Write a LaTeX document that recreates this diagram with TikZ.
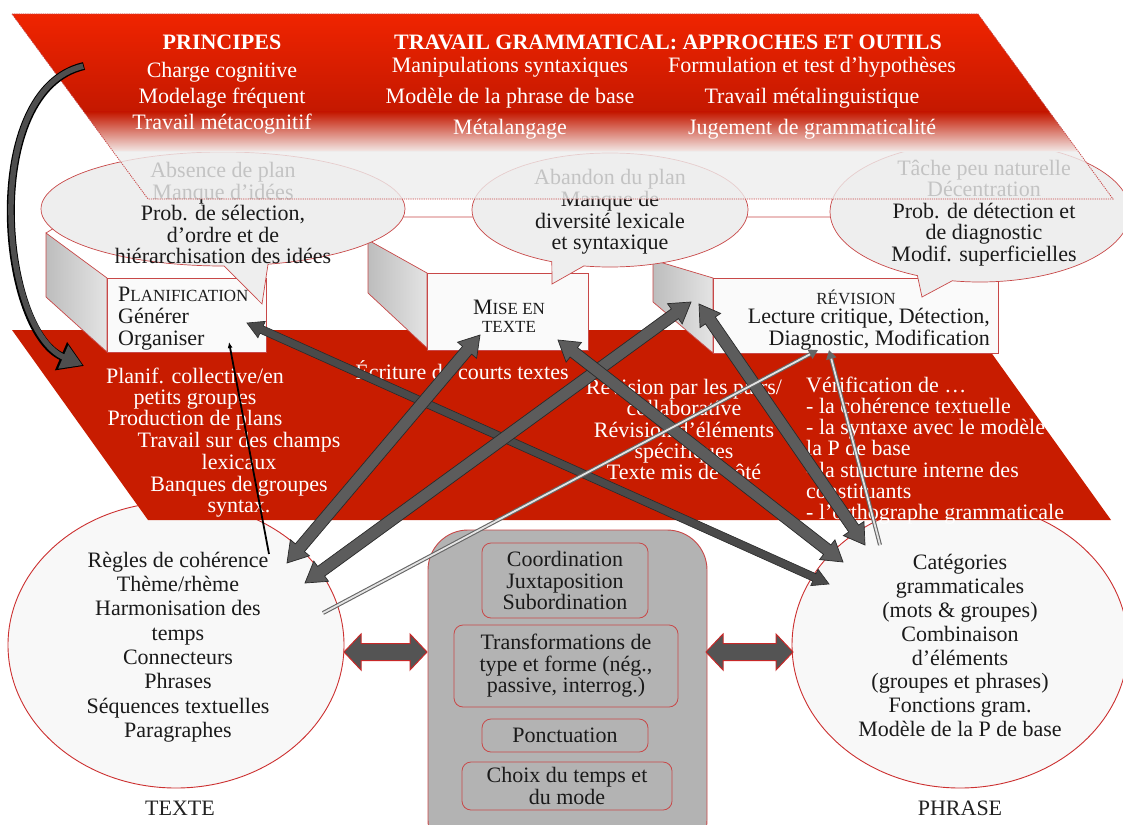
\documentclass[tikz,border=0pt]{standalone}
\usepackage{fontspec}
\setmainfont{Liberation Serif}
\usetikzlibrary{calc,shapes.callouts,shapes.geometric,arrows.meta}
\definecolor{bandred}{HTML}{C81C00}
\definecolor{bandtop}{HTML}{F02400}
\definecolor{banddark}{HTML}{C41800}
\definecolor{bandfade}{HTML}{F2E6E4}
\definecolor{edgered}{HTML}{C84848}
\definecolor{circedge}{HTML}{CC3030}
\definecolor{ellfill}{HTML}{EEEEEE}
\definecolor{circfill}{HTML}{F8F8F8}
\definecolor{frontfill}{HTML}{FAFAFA}
\definecolor{sidedark}{HTML}{BDBDBD}
\definecolor{sidelight}{HTML}{E4E4E4}
\definecolor{boxgray}{HTML}{B3B3B3}
\definecolor{arrgray}{HTML}{5C5C5C}
\definecolor{arrdark}{HTML}{4A4A4A}
\definecolor{arredge}{HTML}{2A2A2A}
\definecolor{dblgray}{HTML}{545454}
\definecolor{dbledge}{HTML}{C82828}
\definecolor{labelgray}{HTML}{222222}
\definecolor{txtblack}{HTML}{1A1A1A}
\definecolor{curvegray}{HTML}{4E4E4E}
\definecolor{thinout}{HTML}{666666}
\definecolor{thinin}{HTML}{E4E4E4}
\newcommand\fs[2]{\fontsize{#1}{#2}\selectfont}
% block arrow with two heads: #1 style, #2 start, #3 end, #4 half shaft, #5 half head, #6 head length
\newcommand\fatarrow[6]{%
  \path ($(#2)!#6!(#3)$) coordinate (faP) ($(#3)!#6!(#2)$) coordinate (faQ);
  \filldraw[#1] (#2) -- ($(faP)!#5!90:(#3)$) -- ($(faP)!#4!90:(#3)$)
    -- ($(faQ)!#4!-90:(#2)$) -- ($(faQ)!#5!-90:(#2)$) -- (#3)
    -- ($(faQ)!#5!90:(#2)$) -- ($(faQ)!#4!90:(#2)$)
    -- ($(faP)!#4!-90:(#3)$) -- ($(faP)!#5!-90:(#3)$) -- cycle;}
\tikzset{
  wtxt/.style={text=white, align=center, inner sep=0pt, font=\fs{22}{21.5}},
  btxt/.style={text=txtblack, align=center, inner sep=0pt, font=\fs{22}{21.5}},
  frontbox/.style={draw=edgered, fill=frontfill, line width=0.7pt, inner sep=0pt},
  sideface/.style={draw=edgered, line width=0.7pt, left color=sidedark, right color=sidelight},
  bubble/.style={ellipse callout, draw=edgered, fill=ellfill, line width=0.7pt, inner sep=0pt, callout pointer arc=14},
  circ/.style={ellipse, draw=circedge, fill=circfill, line width=0.9pt, inner sep=0pt, minimum width=336pt, minimum height=286pt},
  inbox/.style={draw=edgered, fill=boxgray, rounded corners=9pt, line width=0.8pt, inner sep=0pt, align=center, text=txtblack, font=\fs{22}{21.5}},
  fat/.style={fill=arrgray, draw=arredge, line width=0.7pt},
  fatthin/.style={fill=arrdark, draw=arredge, line width=0.6pt},
  dbl/.style={fill=dblgray, draw=dbledge, line width=1pt},
}
\begin{document}
\begin{tikzpicture}[x=1pt,y=-1pt]
\useasboundingbox (0,0) rectangle (1123,824);
\fill[white] (0,0) rectangle (1123,824);

% ---------- lower circles ----------
\node[circ] (texte) at (176,645) {};
\node[circ] (phrase) at (960,645) {};
\node[btxt, font=\fs{22}{24.3}] (textetxt) at (178,647) {Règles de cohérence\\Thème/rhème\\Harmonisation des\\temps\\Connecteurs\\Phrases\\Séquences textuelles\\Paragraphes};
\node[btxt, font=\fs{22}{23.9}] (phrasetxt) at (960,645.5) {Catégories\\grammaticales\\(mots \& groupes)\\Combinaison\\d’éléments\\(groupes et phrases)\\Fonctions gram.\\Modèle de la P de base};
\node[btxt, text=labelgray] (textelab) at (180,808) {TEXTE};
\node[btxt, text=labelgray] (phraselab) at (960,808) {PHRASE};

% ---------- middle red band ----------
\fill[bandred] (12,330) -- (975,330) -- (1111,520) -- (148,520) -- cycle;

% ---------- 3D boxes ----------
\fill[white] (46,233) -- (72,217) -- (1005,217) -- (1005,278) -- (107,278) -- cycle;
\draw[edgered, line width=0.7pt] (46,233) -- (72,217) -- (1005,217);
\path[sideface] (46,233) -- (107,278) -- (107,352) -- (46,297) -- cycle;
\path[sideface] (368,240) -- (427,273) -- (427,348) -- (368,293) -- cycle;
\path[sideface] (653,260) -- (713,278) -- (713,353) -- (653,302) -- cycle;
\node[frontbox, minimum width=159pt, minimum height=74pt] (plan) at (186.5,315) {};
\node[frontbox, minimum width=161pt, minimum height=77pt] (mise) at (507.5,311.5) {};
\node[frontbox, minimum width=285pt, minimum height=75pt] (rev) at (855.5,315.5) {};
\node[btxt, align=left, anchor=west, font=\fs{22}{22}] (plantxt) at (118,319) {{\fs{22}{22}P}{\fs{17}{22}LANIFICATION}\\Générer\\Organiser};
\node[btxt, font=\fs{17}{18}] (misetxt) at (509,316) {{\fs{22}{18}M}ISE EN\\TEXTE};
\node[btxt, font=\fs{17}{18}, text=labelgray] (revtitle) at (856,297) {RÉVISION};
\node[btxt, align=right, anchor=east, font=\fs{22}{22}] (revtxt) at (990,329) {Lecture critique, Détection,\\Diagnostic, Modification};

% ---------- callout ellipses ----------
\node[bubble, minimum width=364pt, minimum height=114pt, callout absolute pointer={(262,304)}] (e1) at (223,209) {};
\node[bubble, minimum width=276pt, minimum height=114pt, callout absolute pointer={(552,284)}] (e2) at (610,210) {};
\node[bubble, minimum width=300pt, minimum height=140pt, callout absolute pointer={(922,297)}] (e3) at (980,212) {};
\node[btxt] (e1txt) at (223,213) {Absence de plan\\Manque d’idées\\Prob. de sélection,\\d’ordre et de\\hiérarchisation des idées};
\node[btxt, font=\fs{22}{21.7}] (e2txt) at (610,212) {Abandon du plan\\Manque de\\diversité lexicale\\et syntaxique};
\node[btxt] (e3txt) at (984,213) {Tâche peu naturelle\\Décentration\\Prob. de détection et\\de diagnostic\\Modif. superficielles};

% ---------- top band ----------
\begin{scope}
  \clip (12,14) -- (978,14) -- (1113,199) -- (148,199) -- cycle;
  \shade[top color=bandtop, bottom color=banddark] (0,13) rectangle (1123,112);
  \shade[top color=banddark, bottom color=bandfade] (0,112) rectangle (1123,151);
  \fill[ellfill, opacity=0.8] (0,151) rectangle (1123,200);
\end{scope}
\draw[edgered, line width=0.8pt, dash pattern=on 1.2pt off 1pt] (12,14) -- (978,14) -- (1113,199) -- (148,199) -- cycle;
\node[wtxt, font=\bfseries\fs{22}{22}] (princ) at (222,42) {PRINCIPES};
\node[wtxt, font=\fs{22}{26}] (princl) at (222,98) {Charge cognitive\\Modelage fréquent\\Travail métacognitif};
\node[wtxt, font=\bfseries\fs{22}{22}] (trav) at (668,42) {TRAVAIL GRAMMATICAL: APPROCHES ET OUTILS};
\node[wtxt, font=\fs{22}{31}] (travl) at (510,98) {Manipulations syntaxiques\\Modèle de la phrase de base\\Métalangage};
\node[wtxt, font=\fs{22}{31}] (travr) at (812,98) {Formulation et test d’hypothèses\\Travail métalinguistique\\Jugement de grammaticalité};

% ---------- middle band texts ----------
\node[wtxt, font=\fs{22}{21}] (pl1) at (195,399) {Planif. collective/en\\petits groupes\\Production de plans};
\node[wtxt, font=\fs{22}{21.7}] (pl2) at (239,475) {Travail sur des champs\\lexicaux\\Banques de groupes\\syntax.};
\node[wtxt] (ecr) at (462,370) {Écriture de courts textes};
\node[wtxt, font=\fs{22}{21.25}] (revp) at (684,429.5) {Révision par les pairs/\\collaborative\\Révision d’éléments\\spécifiques\\Texte mis de côté};
\node[wtxt, align=left, anchor=west, font=\fs{22}{21.2}] (verif) at (806,450.5) {Vérification de …\\- la cohérence textuelle\\- la syntaxe avec le modèle de\\la P de base\\- la structure interne des\\constituants\\- l’orthographe grammaticale};

% ---------- centre box ----------
\node[draw=edgered, fill=boxgray, rounded corners=40pt, line width=0.9pt, minimum width=279pt, minimum height=330pt, inner sep=0pt] (centre) at (567.5,695) {};
\node[inbox, minimum width=166pt, minimum height=75pt] (coord) at (565,580.5) {Coordination\\Juxtaposition\\Subordination};
\node[inbox, minimum width=224pt, minimum height=82pt] (transf) at (566,666) {Transformations de\\type et forme (nég.,\\passive, interrog.)};
\node[inbox, minimum width=166pt, minimum height=33pt] (ponct) at (565,735.5) {Ponctuation};
\node[inbox, minimum width=210pt, minimum height=48pt] (choix) at (567,786) {Choix du temps et\\du mode};

% ---------- horizontal double arrows ----------
\coordinate (d1a) at (344,652);
\coordinate (d1b) at (427,652);
\coordinate (d2a) at (706,652);
\coordinate (d2b) at (793,652);
\fatarrow{dbl}{d1a}{d1b}{8.5pt}{18pt}{17pt}
\fatarrow{dbl}{d2a}{d2b}{8.5pt}{18pt}{17pt}

% ---------- connectors ----------
\coordinate (a1s) at (287,563);
\coordinate (a1e) at (480,335);
\coordinate (a2s) at (305,583);
\coordinate (a2e) at (691,302);
\coordinate (a3s) at (247,323);
\coordinate (a3e) at (829,584);
\coordinate (a4s) at (558,340);
\coordinate (a4e) at (843,562);
\coordinate (a5s) at (699,304);
\coordinate (a5e) at (865,545);
\fatarrow{fatthin}{a3s}{a3e}{4pt}{9pt}{16pt}
\fatarrow{fat}{a1s}{a1e}{6pt}{12.5pt}{20pt}
\fatarrow{fat}{a2s}{a2e}{6pt}{12.5pt}{20pt}
\fatarrow{fat}{a4s}{a4e}{6pt}{12.5pt}{20pt}
\fatarrow{fat}{a5s}{a5e}{6pt}{12.5pt}{20pt}

\coordinate (t1s) at (323,613);
\coordinate (t1e) at (818,350);
\coordinate (t2s) at (880,545);
\coordinate (t2e) at (829,350);
\draw[line width=4pt, draw=thinout, -{Triangle[length=9pt,width=10pt]}] (t1s) -- (t1e);
\draw[line width=1.8pt, draw=thinin, shorten >=9pt] (t1s) -- (t1e);
\draw[line width=4pt, draw=thinout, -{Triangle[length=9pt,width=10pt]}] (t2s) -- (t2e);
\draw[line width=1.8pt, draw=thinin, shorten >=9pt] (t2s) -- (t2e);

\coordinate (k1s) at (269,554);
\coordinate (k1e) at (229,342);
\draw[line width=1.8pt, draw=black, -{Latex[length=6pt,width=5pt]}] (k1s) -- (k1e);

\coordinate (c0) at (84,66);
\coordinate (c1) at (84,366);
\draw[line width=8pt, draw=black, -{Triangle[length=25pt,width=29pt]}] (c0) .. controls (-20,90) and (0,330) .. (c1);
\draw[line width=5.5pt, draw=curvegray, shorten <=0.8pt, -{Triangle[length=21pt,width=24pt]}] (c0) .. controls (-20,90) and (0,330) .. ($(c1)+(-1.5,-0.8)$);
\end{tikzpicture}
\end{document}
